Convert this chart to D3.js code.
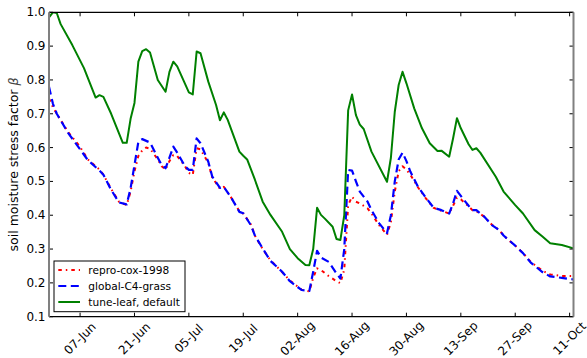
<!DOCTYPE html>
<html>
<head>
<meta charset="utf-8">
<script src="https://cdn.jsdelivr.net/npm/d3@7"></script>
<style>
body { margin: 0; background: #fff; }
text { font-family: "DejaVu Sans", sans-serif; }
</style>
</head>
<body>
<script>
var width = 587,
    height = 358;

var plot = {left: 49, right: 573.5, top: 12.3, bottom: 316.7};

// days since 30-May, value
var reproCox = [[0,0.745],[1,0.72],[2,0.70],[5,0.645],[8,0.602],[10,0.565],[13,0.535],[14,0.52],[16,0.478],[18,0.44],[20,0.43],
  [21,0.47],[22,0.53],[23,0.575],[24,0.592],[25,0.60],[26,0.597],[28,0.565],[29,0.545],[30,0.535],[31,0.56],[32,0.578],[33,0.575],
  [35,0.545],[36,0.525],[37,0.519],[38,0.598],[39,0.595],[41,0.555],[42,0.512],[44,0.478],[45,0.484],[47,0.450],[49,0.412],[50,0.405],
  [52,0.372],[53,0.34],[55,0.30],[57,0.267],[60,0.232],[62,0.207],[65,0.18],[67,0.175],[68,0.215],[69,0.243],[70,0.238],[72,0.22],
  [74,0.205],[75,0.199],[76,0.24],[77,0.43],[78,0.455],[79,0.44],[80,0.435],[82,0.42],[83,0.405],[85,0.37],[87,0.342],[88,0.38],
  [89,0.47],[90,0.53],[91,0.545],[92,0.535],[93,0.52],[95,0.482],[97,0.45],[99,0.422],[101,0.413],[103,0.405],[104,0.428],[105,0.452],
  [106,0.447],[108,0.426],[109,0.415],[110,0.412],[112,0.396],[114,0.372],[116,0.355],[117,0.34],[120,0.31],[122,0.288],[124,0.262],
  [127,0.236],[129,0.225],[132,0.22],[135,0.22]];

var globalC4 = [[0,0.78],[1,0.73],[2,0.70],[5,0.642],[8,0.595],[10,0.563],[13,0.532],[14,0.52],[16,0.475],[18,0.438],[20,0.432],
  [21,0.48],[22,0.548],[23,0.617],[24,0.625],[26,0.615],[28,0.57],[29,0.548],[30,0.539],[31,0.57],[32,0.603],[33,0.585],[35,0.545],
  [36,0.534],[37,0.534],[38,0.627],[39,0.613],[41,0.558],[42,0.515],[44,0.481],[45,0.484],[47,0.450],[49,0.410],[50,0.406],[52,0.37],
  [53,0.34],[55,0.302],[57,0.265],[60,0.233],[62,0.205],[65,0.179],[67,0.176],[68,0.233],[69,0.295],[70,0.275],[72,0.262],[74,0.228],
  [75,0.213],[76,0.30],[77,0.534],[78,0.532],[79,0.50],[80,0.47],[82,0.44],[83,0.415],[85,0.376],[87,0.347],[88,0.40],[89,0.50],
  [90,0.565],[91,0.585],[92,0.56],[93,0.529],[95,0.484],[97,0.452],[99,0.422],[101,0.415],[103,0.405],[104,0.435],[105,0.472],
  [106,0.457],[108,0.428],[109,0.415],[110,0.415],[112,0.396],[114,0.371],[116,0.355],[117,0.34],[120,0.31],[122,0.288],[124,0.26],
  [127,0.232],[129,0.219],[132,0.215],[135,0.21]];

var tuneLeaf = [[0,0.985],[1,1.0],[2,0.998],[3,0.965],[6,0.903],[9,0.835],[12,0.748],[13,0.755],[14,0.750],[16,0.70],[19,0.614],
  [20,0.614],[21,0.685],[22,0.732],[23,0.854],[24,0.885],[25,0.891],[26,0.881],[28,0.80],[30,0.765],[31,0.824],[32,0.854],[33,0.840],
  [36,0.763],[37,0.757],[38,0.884],[39,0.879],[41,0.795],[43,0.726],[44,0.681],[45,0.704],[46,0.682],[49,0.588],[50,0.576],[51,0.565],
  [53,0.505],[55,0.440],[57,0.401],[60,0.351],[62,0.300],[64,0.273],[66,0.253],[67,0.252],[68,0.30],[69,0.422],[70,0.401],[71,0.39],
  [73,0.366],[74,0.33],[75,0.327],[76,0.40],[77,0.71],[78,0.757],[79,0.696],[80,0.668],[81,0.655],[83,0.588],[87,0.499],[88,0.57],
  [89,0.706],[90,0.785],[91,0.824],[92,0.79],[94,0.716],[96,0.657],[98,0.613],[100,0.590],[101,0.591],[103,0.573],[104,0.627],
  [105,0.687],[106,0.657],[108,0.61],[109,0.593],[110,0.598],[111,0.585],[115,0.514],[117,0.47],[120,0.43],[122,0.405],[125,0.356],
  [127,0.337],[129,0.317],[132,0.312],[135,0.302]];

var seriesNames = ["repro-cox-1998", "global-C4-grass", "tune-leaf, default"];
var xTickLabels = ["07-Jun","21-Jun","05-Jul","19-Jul","02-Aug","16-Aug","30-Aug","13-Sep","27-Sep","11-Oct"];
var yTicks = [0.1,0.2,0.3,0.4,0.5,0.6,0.7,0.8,0.9,1.0];

var start = new Date(2001, 4, 30);
var parseTick = d3.timeParse("%d-%b-%Y");

var x = d3.scaleTime()
    .domain([start, d3.timeDay.offset(start, 135)])
    .range([plot.left, plot.right]);

var y = d3.scaleLinear()
    .domain([0.1, 1.0])
    .range([plot.bottom, plot.top]);

var svg = d3.select("body").append("svg")
    .attr("width", width)
    .attr("height", height);

svg.append("clipPath").attr("id", "clip")
  .append("rect")
    .attr("x", plot.left).attr("y", plot.top)
    .attr("width", plot.right - plot.left)
    .attr("height", plot.bottom - plot.top);

var line = d3.line()
    .x(function(d) { return x(d3.timeDay.offset(start, d[0])); })
    .y(function(d) { return y(d[1]); });

var styles = [
  {color: "#ff0000", dash: "3.5,4,1.5,4", width: 2},
  {color: "#0000ff", dash: "8,4.5", width: 2.2},
  {color: "#008000", dash: null, width: 2}
];

var g = svg.append("g").attr("clip-path", "url(#clip)");
[reproCox, globalC4, tuneLeaf].forEach(function(data, i) {
  g.append("path")
      .datum(data)
      .attr("d", line)
      .attr("fill", "none")
      .attr("stroke", styles[i].color)
      .attr("stroke-width", styles[i].width)
      .attr("stroke-dasharray", styles[i].dash)
      .attr("stroke-linejoin", "round");
});

// ticks (inward, all four sides)
var xTickDates = xTickLabels.map(function(l) { return parseTick(l + "-2001"); });

var axisG = svg.append("g");
xTickDates.forEach(function(d) {
  var px = x(d);
  axisG.append("line").attr("x1", px).attr("x2", px).attr("y1", plot.bottom).attr("y2", plot.bottom - 4)
      .attr("stroke", "#000");
  axisG.append("line").attr("x1", px).attr("x2", px).attr("y1", plot.top).attr("y2", plot.top + 4)
      .attr("stroke", "#000");
});
yTicks.forEach(function(v) {
  var py = y(v);
  axisG.append("line").attr("x1", plot.left).attr("x2", plot.left + 4).attr("y1", py).attr("y2", py)
      .attr("stroke", "#000");
  axisG.append("line").attr("x1", plot.right - 4).attr("x2", plot.right).attr("y1", py).attr("y2", py)
      .attr("stroke", "#000");
});

// spines
axisG.append("line").attr("x1", plot.left).attr("x2", plot.right).attr("y1", plot.top).attr("y2", plot.top)
    .attr("stroke", "#000").attr("stroke-width", 1.2);
axisG.append("line").attr("x1", plot.left).attr("x2", plot.right).attr("y1", plot.bottom).attr("y2", plot.bottom)
    .attr("stroke", "#000").attr("stroke-width", 1.2);
axisG.append("line").attr("x1", plot.left).attr("x2", plot.left).attr("y1", plot.top).attr("y2", plot.bottom)
    .attr("stroke", "#808080").attr("stroke-width", 2);
axisG.append("line").attr("x1", plot.right).attr("x2", plot.right).attr("y1", plot.top).attr("y2", plot.bottom)
    .attr("stroke", "#808080").attr("stroke-width", 2);

// tick labels
svg.selectAll(".xlabel")
    .data(xTickDates)
  .enter().append("text")
    .attr("class", "xlabel")
    .attr("transform", function(d, i) { return "translate(" + x(d) + "," + 338.5 + ") rotate(-45)"; })
    .attr("text-anchor", "middle")
    .attr("dominant-baseline", "central")
    .attr("font-size", 12)
    .text(function(d, i) { return xTickLabels[i]; });

svg.selectAll(".ylabel")
    .data(yTicks)
  .enter().append("text")
    .attr("class", "ylabel")
    .attr("x", plot.left - 3.5)
    .attr("y", function(d) { return y(d); })
    .attr("text-anchor", "end")
    .attr("dominant-baseline", "central")
    .attr("font-size", 12)
    .text(function(d) { return d.toFixed(1); });

var ytitle = svg.append("text")
    .attr("transform", "translate(13," + ((plot.top + plot.bottom) / 2) + ") rotate(-90)")
    .attr("text-anchor", "middle")
    .attr("dominant-baseline", "central")
    .attr("font-size", 12.5);
ytitle.append("tspan").text("soil moisture stress factor ");
ytitle.append("tspan").attr("font-style", "italic").attr("fill", "#444").text("β");

// legend
var leg = svg.append("g").attr("transform", "translate(54,261)");
leg.append("rect")
    .attr("width", 131).attr("height", 50.7)
    .attr("fill", "#fff").attr("stroke", "#000").attr("stroke-width", 1);
seriesNames.forEach(function(name, i) {
  var ly = 9 + i * 16;
  leg.append("line")
      .attr("x1", 4.3).attr("x2", 26).attr("y1", ly).attr("y2", ly)
      .attr("stroke", styles[i].color)
      .attr("stroke-width", styles[i].width)
      .attr("stroke-dasharray", styles[i].dash);
  leg.append("text")
      .attr("x", 34.3).attr("y", ly)
      .attr("dominant-baseline", "central")
      .attr("font-size", 10.6)
      .text(name);
});
</script>
</body>
</html>
